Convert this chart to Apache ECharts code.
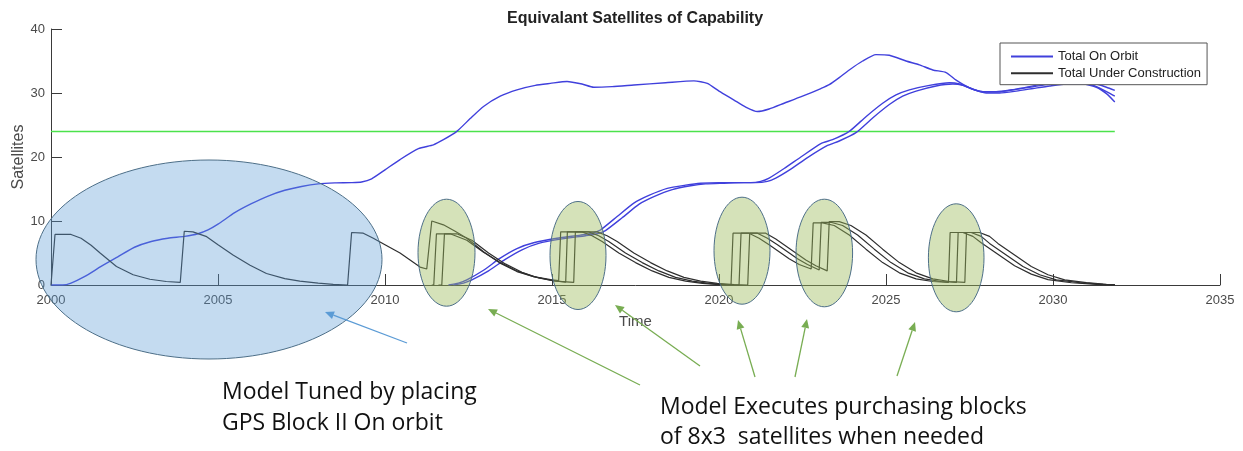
<!DOCTYPE html>
<html>
<head>
<meta charset="utf-8">
<title>Equivalant Satellites of Capability</title>
<script src="https://cdn.jsdelivr.net/npm/echarts@6/dist/echarts.min.js"></script>
<style>
  html, body { margin: 0; padding: 0; background: #fff; }
  #chart { width: 1243px; height: 451px; }
</style>
</head>
<body>
<div id="chart"></div>
<script>
// x ticks / y ticks
const yearTicks = [2000, 2005, 2010, 2015, 2020, 2025, 2030, 2035]
const satTicks = [0, 10, 20, 30, 40]

// required constellation size
const requirement = [[2000, 24], [2031.85, 24]]

// Total On Orbit (three runs)
const orbitA = [[2000,0],[2000.35,0],[2000.6,0.3],[2001,1.3],[2001.5,2.9],[2002,4.4],[2002.5,5.9],[2003,6.8],[2003.5,7.3],[2004,7.6],[2004.4,8.0],[2004.7,8.6],[2005,9.5],[2005.5,11.3],[2006,12.7],[2006.5,13.9],[2007,14.8],[2007.5,15.4],[2008,15.8],[2008.5,15.95],[2009,16],[2009.3,16.1],[2009.6,16.6],[2010,18.0],[2010.45,19.6],[2011,21.3],[2011.45,21.9],[2011.75,22.7],[2012.15,24.0],[2012.55,26.0],[2012.95,27.9],[2013.45,29.5],[2013.95,30.5],[2014.5,31.2],[2014.95,31.5],[2015.45,31.8],[2015.9,31.4],[2016.25,30.9],[2016.8,31.0],[2017.45,31.25],[2018.4,31.6],[2019.25,31.9],[2019.65,31.5],[2020,30.3],[2020.45,28.9],[2020.8,27.8],[2021.15,27.1],[2021.5,27.5],[2021.95,28.4],[2022.5,29.5],[2023.05,30.7],[2023.3,31.3],[2023.6,32.4],[2023.9,33.6],[2024.3,35.0],[2024.7,36.0],[2025.1,35.9],[2025.6,35.0],[2026.0,34.4],[2026.4,33.6],[2026.8,33.2],[2027.1,32.0],[2027.5,30.8],[2027.9,30.2],[2028.4,30.2],[2029,30.7],[2029.8,31.5],[2030.4,31.9],[2030.9,31.9],[2031.3,31.4],[2031.6,30.9],[2031.85,30.4]]
const orbitB = [[2011.9,0],[2012.2,0.3],[2012.45,0.8],[2012.95,2.3],[2013.45,4.2],[2013.95,5.7],[2014.45,6.6],[2015.15,7.3],[2015.85,7.8],[2016.2,8.1],[2016.45,8.6],[2016.95,10.7],[2017.45,12.8],[2017.9,14.0],[2018.45,15.1],[2019,15.6],[2019.45,15.9],[2020,16.0],[2020.6,16.0],[2020.95,16.0],[2021.25,16.2],[2021.5,16.7],[2021.95,18.2],[2022.45,20.0],[2023.05,22.1],[2023.4,22.7],[2023.9,24.0],[2024.4,26.3],[2024.9,28.4],[2025.3,29.7],[2025.7,30.5],[2026.3,31.2],[2026.9,31.6],[2027.2,31.4],[2027.6,30.6],[2027.9,30.2],[2028.3,30.2],[2028.8,30.5],[2029.3,30.9],[2029.8,31.3],[2030.3,31.6],[2030.8,31.6],[2031.2,31.2],[2031.5,30.5],[2031.85,29.5]]
const orbitC = [[2012.05,0],[2012.35,0.3],[2012.6,0.8],[2013.1,2.2],[2013.6,4.0],[2014.1,5.5],[2014.6,6.5],[2015.3,7.2],[2016.0,7.7],[2016.35,8.0],[2016.6,8.5],[2017.1,10.5],[2017.6,12.6],[2018.05,13.8],[2018.6,14.9],[2019.15,15.5],[2019.6,15.8],[2020.15,15.9],[2020.75,16.0],[2021.1,16.0],[2021.45,16.2],[2021.7,16.7],[2022.15,18.1],[2022.65,19.9],[2023.25,21.8],[2023.6,22.5],[2024.1,23.8],[2024.6,26.1],[2025.1,28.2],[2025.5,29.5],[2025.9,30.3],[2026.5,31.1],[2027.0,31.4],[2027.3,31.2],[2027.7,30.4],[2028.0,30.0],[2028.4,30.0],[2028.9,30.3],[2029.4,30.7],[2029.9,31.1],[2030.4,31.4],[2030.9,31.4],[2031.3,30.9],[2031.6,29.9],[2031.85,28.6]]

// Total Under Construction (three runs)
const constrA = [[2000,0],[2000.12,7.9],[2000.6,7.9],[2000.9,7.3],[2001.2,6.2],[2001.47,5.0],[2001.96,2.9],[2002.46,1.6],[2002.96,0.9],[2003.45,0.55],[2003.87,0.4],[2003.99,8.4],[2004.25,8.3],[2004.64,7.6],[2005,6.3],[2005.45,4.7],[2005.96,3.1],[2006.45,1.8],[2007,1.0],[2007.45,0.6],[2008,0.3],[2008.45,0.1],[2008.88,0],[2009.0,8.2],[2009.35,8.1],[2009.65,7.3],[2010,6.3],[2010.45,5.0],[2011.05,2.8],[2011.25,2.5],[2011.4,10.0],[2011.75,9.4],[2012.1,8.4],[2012.45,7.3],[2012.95,5.2],[2013.45,3.4],[2013.95,2.1],[2014.45,1.3],[2015.0,0.8],[2015.2,0.7],[2015.26,8.3],[2015.9,8.3],[2016.2,7.7],[2016.5,6.8],[2017.0,5.0],[2017.5,3.5],[2018.0,2.2],[2018.5,1.2],[2019.0,0.6],[2019.5,0.25],[2020.0,0.05],[2020.36,0],[2020.42,8.1],[2020.9,8.1],[2021.2,7.3],[2021.5,6.3],[2021.8,5.2],[2022.1,4.1],[2022.4,3.2],[2022.76,2.5],[2022.82,9.7],[2023.1,9.7],[2023.45,9.3],[2023.9,7.8],[2024.4,5.6],[2024.9,3.5],[2025.4,1.9],[2025.9,0.95],[2026.4,0.55],[2026.87,0.4],[2026.92,8.2],[2027.3,8.2],[2027.6,7.6],[2027.85,6.6],[2028.35,4.8],[2028.85,3.0],[2029.35,1.7],[2029.85,0.85],[2030.55,0.35],[2031.3,0.1],[2031.85,0.02]]
const constrB = [[2011.4,0],[2011.46,0],[2011.54,8.0],[2011.95,8.0],[2012.45,7.0],[2012.95,5.1],[2013.45,3.5],[2013.95,2.2],[2014.45,1.3],[2015.0,0.7],[2015.41,0.45],[2015.46,8.3],[2016.1,8.3],[2016.4,7.7],[2016.7,6.8],[2017.2,5.0],[2017.7,3.5],[2018.2,2.2],[2018.7,1.2],[2019.2,0.6],[2019.7,0.25],[2020.2,0.05],[2020.6,0],[2020.66,8.1],[2021.15,8.1],[2021.45,7.3],[2021.75,6.3],[2022.05,5.2],[2022.35,4.1],[2022.65,3.2],[2023.0,2.35],[2023.06,9.8],[2023.35,9.8],[2023.7,9.3],[2024.15,7.8],[2024.65,5.6],[2025.15,3.5],[2025.65,1.9],[2026.15,0.95],[2026.65,0.55],[2027.11,0.4],[2027.16,8.2],[2027.55,8.2],[2027.85,7.6],[2028.1,6.5],[2028.6,4.7],[2029.1,2.9],[2029.6,1.6],[2030.1,0.8],[2030.8,0.36],[2031.5,0.1],[2031.85,0.03]]
const constrC = [[2011.6,0],[2011.7,0],[2011.78,8.0],[2012.15,8.0],[2012.6,7.0],[2013.1,5.0],[2013.6,3.3],[2014.1,2.0],[2014.6,1.1],[2015.1,0.6],[2015.65,0.4],[2015.7,8.3],[2016.35,8.3],[2016.65,7.7],[2016.95,6.8],[2017.45,5.0],[2017.95,3.5],[2018.45,2.2],[2018.95,1.2],[2019.45,0.6],[2019.95,0.25],[2020.45,0.05],[2020.86,0],[2020.92,8.1],[2021.4,8.1],[2021.7,7.2],[2022.0,6.1],[2022.3,5.0],[2022.6,3.9],[2022.9,3.0],[2023.24,2.2],[2023.3,9.9],[2023.6,9.9],[2023.95,9.3],[2024.4,7.8],[2024.9,5.6],[2025.4,3.5],[2025.9,1.9],[2026.4,0.95],[2026.9,0.55],[2027.36,0.4],[2027.41,8.2],[2027.8,8.2],[2028.1,7.6],[2028.35,6.5],[2028.85,4.7],[2029.35,2.9],[2029.85,1.6],[2030.35,0.8],[2031.0,0.36],[2031.6,0.1],[2031.85,0.05]]

const ORBIT = 'Total On Orbit'
const BUILD = 'Total Under Construction'
const blue = '#4040dc'
const dark = '#2e2e2e'
const axisGray = '#3a3a3a'
const labelGray = '#4a4a4a'

const chartDom = document.getElementById('chart')
const myChart = echarts.init(chartDom, null, { renderer: 'canvas' })

const lineSeries = (name, data, color, width, z, smooth) => ({
  name: name,
  type: 'line',
  data: data,
  symbol: 'none',
  smooth: smooth,
  z: z,
  color: color,
  lineStyle: { color: color, width: width },
  silent: true
})

// annotation helpers (pixel positions of the callouts drawn on the slide)
const ellipse = (cx, cy, rx, ry, fill) => ({
  type: 'ellipse',
  z: 20,
  silent: true,
  shape: { cx: cx, cy: cy, rx: rx, ry: ry },
  style: { fill: fill, stroke: '#4d6f88', lineWidth: 1 }
})
const arrow = (x1, y1, x2, y2, color) => {
  const ang = Math.atan2(y2 - y1, x2 - x1)
  const len = 9, half = 4
  const bx = x2 - Math.cos(ang) * len, by = y2 - Math.sin(ang) * len
  const px = -Math.sin(ang) * half, py = Math.cos(ang) * half
  return [
    { type: 'line', z: 21, silent: true, shape: { x1: x1, y1: y1, x2: bx, y2: by }, style: { stroke: color, lineWidth: 1.3 } },
    { type: 'polygon', z: 21, silent: true, shape: { points: [[x2, y2], [bx + px, by + py], [bx - px, by - py]] }, style: { fill: color } }
  ]
}
const note = (x, y, text) => ({
  type: 'text',
  z: 22,
  silent: true,
  x: x,
  y: y,
  style: { text: text, font: '23px "Open Sans", Lato, sans-serif', fill: '#111', verticalAlign: 'middle', align: 'left' }
})

const blueFill = 'rgba(91,155,213,0.36)'
const greenFill = 'rgba(155,187,89,0.42)'
const green = '#78ad52'

const graphics = [
  ellipse(209, 259.5, 173, 99.5, blueFill),
  ellipse(446.5, 252.7, 28.5, 53.5, greenFill),
  ellipse(578, 255.5, 28, 54, greenFill),
  ellipse(742, 250.7, 28, 53.5, greenFill),
  ellipse(824.3, 253, 28.3, 53.8, greenFill),
  ellipse(956.2, 257.8, 27.8, 54, greenFill),
  ...arrow(407, 343, 325, 312, '#5b9bd5'),
  ...arrow(640, 385, 488, 309, green),
  ...arrow(700, 366, 615, 305, green),
  ...arrow(755, 377, 738, 320, green),
  ...arrow(795, 377, 807, 319, green),
  ...arrow(897, 376, 915, 322, green),
  note(222, 392.5, 'Model Tuned by placing'),
  note(222, 423, 'GPS Block II On orbit'),
  note(660, 407, 'Model Executes purchasing blocks'),
  note(660, 437.5, 'of 8x3  satellites when needed')
]

const option = {
  animation: false,
  backgroundColor: '#ffffff',
  textStyle: { fontFamily: '"Liberation Sans", Arial, sans-serif' },
  title: {
    text: 'Equivalant Satellites of Capability',
    left: 502,
    top: 6,
    textStyle: { fontSize: 16, fontWeight: 'bold', color: '#222', fontFamily: '"Liberation Sans", Arial, sans-serif' }
  },
  legend: {
    data: [ORBIT, BUILD],
    orient: 'vertical',
    left: 1000,
    top: 43,
    itemWidth: 42,
    itemHeight: 12,
    itemGap: 3.7,
    padding: [7, 6, 5, 10],
    backgroundColor: '#ffffff',
    borderColor: '#555',
    borderWidth: 1,
    borderRadius: 0,
    selectedMode: false,
    itemStyle: { opacity: 0, color: 'transparent', borderWidth: 0 },
    textStyle: { fontSize: 13, color: '#222', fontFamily: '"Liberation Sans", Arial, sans-serif' }
  },
  grid: { left: 51, right: 23, top: 29, bottom: 166, containLabel: false, outerBoundsMode: 'none' },
  xAxis: {
    type: 'value',
    min: yearTicks[0],
    max: yearTicks[yearTicks.length - 1],
    interval: 5,
    name: 'Time',
    nameLocation: 'middle',
    nameGap: 29,
    nameMoveOverlap: false,
    nameTextStyle: { fontSize: 15, color: labelGray },
    axisLine: { onZero: false, lineStyle: { color: axisGray, width: 1 } },
    axisTick: { inside: true, length: 11, lineStyle: { color: axisGray } },
    axisLabel: { margin: 9, fontSize: 13, color: labelGray, formatter: (v) => String(v) },
    splitLine: { show: false }
  },
  yAxis: {
    type: 'value',
    min: satTicks[0],
    max: satTicks[satTicks.length - 1],
    interval: 10,
    name: 'Satellites',
    nameLocation: 'middle',
    nameGap: 24,
    nameMoveOverlap: false,
    nameTextStyle: { fontSize: 16, color: labelGray },
    axisLine: { show: true, lineStyle: { color: axisGray, width: 1 } },
    axisTick: { show: true, inside: true, length: 11, lineStyle: { color: axisGray } },
    axisLabel: { margin: 6, fontSize: 13, color: labelGray },
    splitLine: { show: false }
  },
  series: [
    lineSeries('Requirement', requirement, '#4be24b', 1.5, 2, false),
    lineSeries(ORBIT, orbitA, blue, 1.4, 3, 0.2),
    lineSeries(ORBIT, orbitB, blue, 1.4, 3, 0.2),
    lineSeries(ORBIT, orbitC, blue, 1.4, 3, 0.2),
    lineSeries(BUILD, constrA, dark, 1.2, 4, false),
    lineSeries(BUILD, constrB, dark, 1.2, 4, false),
    lineSeries(BUILD, constrC, dark, 1.2, 4, false)
  ],
  graphic: graphics
}
myChart.setOption(option)
</script>
</body>
</html>
